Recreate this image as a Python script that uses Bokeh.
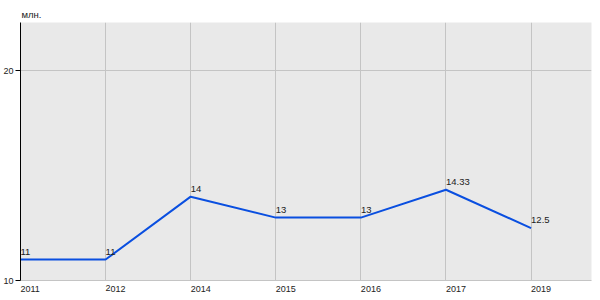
from bokeh.plotting import figure
from bokeh.models import Range1d, FixedTicker, ColumnDataSource, Title
from bokeh.core.properties import value
from bokeh.embed import file_html
from bokeh.resources import INLINE

years = ["2011", "2012", "2014", "2015", "2016", "2017", "2019"]
values = [11, 11, 14, 13, 13, 14.33, 12.5]
labels = ["11", "11", "14", "13", "13", "14.33", "12.5"]
y_ticks = [10, 20]
unit_label = "млн."

FONT = "Liberation Sans"
TXT = "#222222"

xs = list(range(len(years)))
src = ColumnDataSource(dict(x=xs, y=values, lab=labels))

p = figure(width=600, height=300, output_backend="svg", toolbar_location=None,
           x_range=Range1d(0, 6.71), y_range=Range1d(10, 22.31),
           min_border_left=20, min_border_right=9, min_border_top=22, min_border_bottom=20,
           background_fill_color="#e9e9e9", border_fill_color="white",
           outline_line_color=None)

p.line("x", "y", source=src, line_color="#0a4fe0", line_width=2)
p.text("x", "y", text="lab", source=src, text_font=value(FONT),
       text_font_size="9.5px", text_color=TXT, text_baseline="alphabetic",
       text_align="left", x_offset=0, y_offset=-8)

p.xaxis.ticker = FixedTicker(ticks=xs)
p.xaxis.major_label_overrides = {i: y for i, y in enumerate(years)}
p.xaxis.major_label_orientation = -0.0001
p.xaxis.major_label_text_font = FONT
p.xaxis.major_label_text_font_size = "9px"
p.xaxis.major_label_text_color = TXT
p.xaxis.major_label_standoff = 8
p.xaxis.major_tick_out = 0
p.xaxis.major_tick_in = 0
p.xaxis.minor_tick_line_color = None
p.xaxis.axis_line_color = "#c4c4c4"

p.yaxis.ticker = FixedTicker(ticks=y_ticks)
p.yaxis.major_tick_out = 5
p.yaxis.major_tick_in = 0
p.yaxis.minor_tick_line_color = None
p.yaxis.axis_line_color = "black"
p.yaxis.major_tick_line_color = "black"
p.yaxis.major_label_standoff = 2
p.yaxis.major_label_text_font = FONT
p.yaxis.major_label_text_font_size = "9px"
p.yaxis.major_label_text_color = TXT

p.xgrid.grid_line_color = "#c4c4c4"
p.ygrid.grid_line_color = "#c4c4c4"

t = Title(text=unit_label, align="left", offset=1, text_font=FONT,
          text_font_size="9.5px", text_font_style="normal", text_color=TXT,
          standoff=5)
p.add_layout(t, "above")

open("out.html", "w").write(file_html(p, INLINE))
